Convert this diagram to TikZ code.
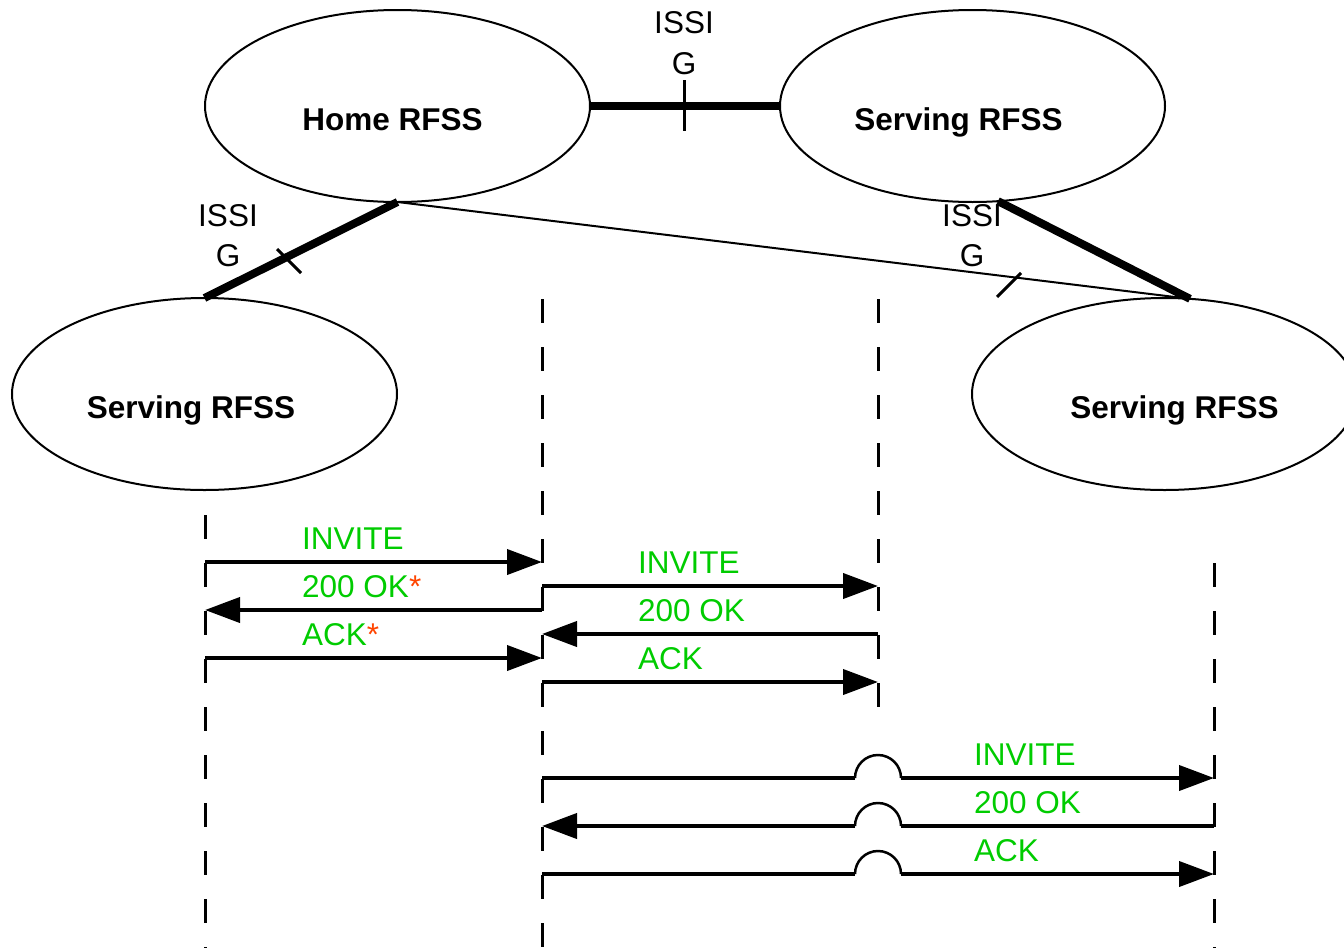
\documentclass[tikz,border=0pt]{standalone}
\usepackage{fontspec}
\setmainfont{Liberation Sans}
\usetikzlibrary{arrows.meta,shapes.geometric}
\definecolor{msggreen}{RGB}{0,204,0}
\definecolor{starred}{RGB}{255,69,0}
\begin{document}
\begin{tikzpicture}[x=1pt,y=-1pt,
  rfss/.style={ellipse, draw, line width=2pt, minimum width=385pt, minimum height=192pt, inner sep=0pt, outer sep=0pt},
  rfsslabel/.style={anchor=base, inner sep=0pt, font=\fontsize{31.5}{38}\selectfont\bfseries},
  issi/.style={anchor=base, inner sep=0pt, font=\fontsize{31.5}{38}\selectfont},
  msglabel/.style={anchor=base west, inner sep=0pt, text=msggreen, font=\fontsize{31.5}{38}\selectfont},
  trunk/.style={line width=8pt},
  thinlink/.style={line width=2pt},
  tickmark/.style={line width=3pt},
  lifeline/.style={line width=3pt, dash pattern=on 24pt off 24pt},
  msg/.style={line width=4pt, -{Triangle[length=35pt,width=25pt]}},
  msgline/.style={line width=4pt},
  hop/.style={line width=2.5pt}
]
\useasboundingbox (0,0) rectangle (1344,948);
\fill[white] (0,0) rectangle (1344,948);

% ellipses
\node[rfss] (home) at (397.5,106) {};
\node[rfss] (servtr) at (972.5,106) {};
\node[rfss] (servl) at (204.5,394) {};
\node[rfss] (servr) at (1164.5,394) {};

\node[rfsslabel] (homelbl) at (392.5,130) {Home RFSS};
\node[rfsslabel] (servtrlbl) at (958.5,130) {Serving RFSS};
\node[rfsslabel] (servllbl) at (191,418) {Serving RFSS};
\node[rfsslabel] (servrlbl) at (1174.5,418) {Serving RFSS};

% connectors
\draw[trunk] (home.east) -- (servtr.west);
\draw[trunk] (home.south) -- (servl.north);
\draw[trunk] (servtr.-75) -- (servr.75);
\draw[thinlink] (home.south) -- (servr.75);

% ticks
\draw[tickmark] (684,80) -- (684,131);
\draw[tickmark] (277,249) -- (301,273);
\draw[tickmark] (997,297) -- (1021,273);

% ISSI labels
\node[issi] (issit1) at (684,33) {ISSI};
\node[issi] (issit2) at (684,74) {G};
\node[issi] (issil1) at (228,226) {ISSI};
\node[issi] (issil2) at (228,266) {G};
\node[issi] (issir1) at (972,226) {ISSI};
\node[issi] (issir2) at (972,266) {G};

% lifelines
\coordinate (la) at (205,515); \coordinate (lab) at (205,948);
\coordinate (lb) at (542,299); \coordinate (lbb) at (542,948);
\coordinate (lc) at (878,299); \coordinate (lcb) at (878,707);
\coordinate (ld) at (1214,563); \coordinate (ldb) at (1214,948);
\draw[lifeline] (la) -- (lab);
\draw[lifeline] (lb) -- (lbb);
\draw[lifeline] (lc) -- (lcb);
\draw[lifeline] (ld) -- (ldb);

% left messages
\draw[msg] (205,562) -- (542,562);
\draw[msg] (542,610) -- (205,610);
\draw[msg] (205,658) -- (542,658);
\node[msglabel] (m1) at (302,549) {INVITE};
\node[msglabel] (m2) at (302,597) {200 OK\textcolor{starred}{*}};
\node[msglabel] (m3) at (302,645) {ACK\textcolor{starred}{*}};

% middle messages
\draw[msg] (542,586) -- (878,586);
\draw[msg] (878,634) -- (542,634);
\draw[msg] (542,682) -- (878,682);
\node[msglabel] (m4) at (638,573) {INVITE};
\node[msglabel] (m5) at (638,621) {200 OK};
\node[msglabel] (m6) at (638,669) {ACK};

% right messages with hops
\draw[msgline] (542,778) -- (855,778);
\draw[hop] (855,778) arc[start angle=180,end angle=0,radius=23pt];
\draw[msg] (901,778) -- (1214,778);
\draw[msgline] (1214,826) -- (901,826);
\draw[hop] (855,826) arc[start angle=180,end angle=0,radius=23pt];
\draw[msg] (855,826) -- (542,826);
\draw[msgline] (542,874) -- (855,874);
\draw[hop] (855,874) arc[start angle=180,end angle=0,radius=23pt];
\draw[msg] (901,874) -- (1214,874);
\node[msglabel] (m7) at (974,765) {INVITE};
\node[msglabel] (m8) at (974,813) {200 OK};
\node[msglabel] (m9) at (974,861) {ACK};
\end{tikzpicture}
\end{document}
